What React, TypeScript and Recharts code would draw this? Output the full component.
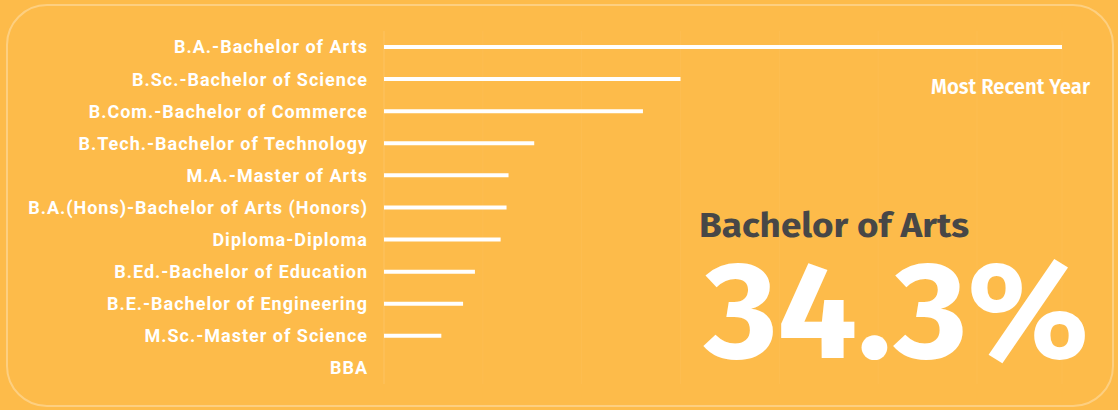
import React from 'react';
import { BarChart, Bar, XAxis, YAxis, CartesianGrid } from 'recharts';

const degrees = [
  'B.A.-Bachelor of Arts',
  'B.Sc.-Bachelor of Science',
  'B.Com.-Bachelor of Commerce',
  'B.Tech.-Bachelor of Technology',
  'M.A.-Master of Arts',
  'B.A.(Hons)-Bachelor of Arts (Honors)',
  'Diploma-Diploma',
  'B.Ed.-Bachelor of Education',
  'B.E.-Bachelor of Engineering',
  'M.Sc.-Master of Science',
  'BBA',
];

// share of graduates, most recent year (%)
const shares = [34.3, 15.0, 13.1, 7.6, 6.3, 6.2, 5.9, 4.6, 4.0, 2.9, 0];

const xTicks = [0, 5, 10, 15, 20, 25, 30];

const topName = 'Bachelor of Arts';
const topShare = '34.3%';
const periodLabel = 'Most Recent Year';

const BG = '#FDBB4A';

const data = degrees.map((name, i) => ({ name, share: shares[i] }));

const App: React.FC = () => {
  return (
    <div
      style={{
        position: 'absolute',
        left: 0,
        top: 0,
        width: 1118,
        height: 410,
        background: BG,
        overflow: 'hidden',
      }}
    >
      <BarChart
        width={1118}
        height={410}
        data={data}
        layout="vertical"
        margin={{ top: 31, right: 56, bottom: 26, left: 0 }}
      >
        <CartesianGrid horizontal={false} stroke="rgba(255,255,255,0.045)" />
        <XAxis type="number" domain={[0, 34.3]} ticks={xTicks} hide />
        <YAxis
          type="category"
          dataKey="name"
          width={384}
          tickSize={0}
          tickMargin={16}
          tickLine={false}
          axisLine={{ stroke: 'rgba(255,255,255,0.1)' }}
          interval={0}
          tick={{
            fill: '#ffffff',
            fontSize: 18,
            fontWeight: 700,
            fontFamily: 'Roboto',
            letterSpacing: 1,
          }}
        />
        <Bar dataKey="share" fill="#ffffff" barSize={4} isAnimationActive={false} />
      </BarChart>

      <svg
        width={1118}
        height={410}
        style={{ position: 'absolute', left: 0, top: 0, pointerEvents: 'none' }}
      >
        <rect
          x={7}
          y={5}
          width={1106}
          height={401}
          rx={40}
          fill="none"
          stroke="rgba(255,255,255,0.3)"
          strokeWidth={2}
        />
        <text
          x={931}
          y={94}
          fill="#ffffff"
          fontSize={21}
          fontWeight={600}
          fontFamily="'Fira Sans', 'Open Sans', sans-serif"
          textLength={159}
          lengthAdjust="spacingAndGlyphs"
        >
          {periodLabel}
        </text>
        <text
          x={699}
          y={237}
          fill="#474747"
          fontSize={34}
          fontWeight={700}
          fontFamily="'Fira Sans', 'Open Sans', sans-serif"
          textLength={270}
          lengthAdjust="spacingAndGlyphs"
        >
          {topName}
        </text>
        <text
          x={704}
          y={358}
          fill="#ffffff"
          fontSize={137}
          fontWeight={700}
          fontFamily="'Fira Sans', 'Open Sans', sans-serif"
          textLength={385}
          lengthAdjust="spacingAndGlyphs"
        >
          {topShare}
        </text>
      </svg>
    </div>
  );
};

export default App;
